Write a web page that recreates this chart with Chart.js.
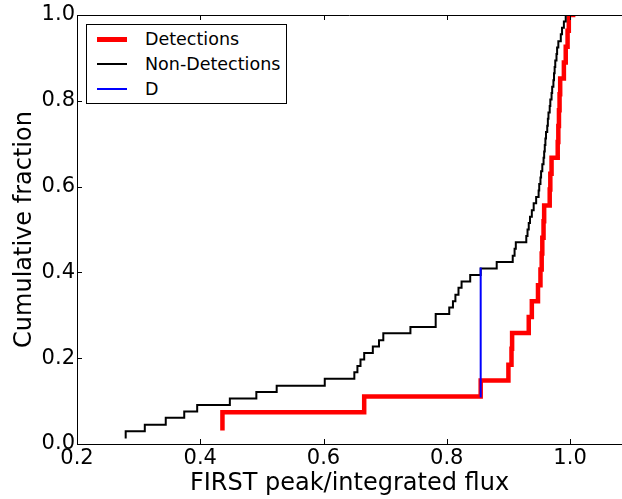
<!DOCTYPE html>
<html>
<head>
<meta charset="utf-8">
<script src="https://cdn.jsdelivr.net/npm/chart.js@4"></script>
<style>
  html, body { margin: 0; padding: 0; background: #fff; }
  #wrap { position: relative; width: 622px; height: 499px; }
  #legend { position: absolute; left: 86px; top: 24px; width: 201px; height: 80px; box-sizing: border-box;
            border: 1px solid #000; background: #fff; font-family: "DejaVu Sans"; font-size: 17.5px; color: #000; }
  .row { position: absolute; left: 0; width: 100%; height: 24px; }
  .swatch { position: absolute; left: 10px; width: 30px; }
  .label { position: absolute; left: 58px; top: 0; line-height: 24px; white-space: nowrap; }
</style>
</head>
<body>
<div id="wrap">
  <canvas id="chart" width="622" height="499"></canvas>
  <div id="legend">
    <div class="row" style="top:2px"><span class="swatch" style="top:10px;height:4.5px;background:#ff0000"></span><span class="label">Detections</span></div>
    <div class="row" style="top:27px"><span class="swatch" style="top:11px;height:2px;background:#000"></span><span class="label">Non-Detections</span></div>
    <div class="row" style="top:52px"><span class="swatch" style="top:11px;height:2px;background:#0000ff"></span><span class="label">D</span></div>
  </div>
</div>
<script>
const xTicks = [0.2, 0.4, 0.6, 0.8, 1.0];
const yTicks = [0, 0.2, 0.4, 0.6, 0.8, 1.0];

// detections: cumulative steps (x of jump, level after jump)
const detX = [0.436, 0.436, 0.666, 0.855, 0.900, 0.905, 0.906, 0.933, 0.938, 0.948,
              0.952, 0.954, 0.955, 0.957, 0.958, 0.967, 0.968, 0.970, 0.980, 0.981,
              0.982, 0.983, 0.984, 0.990, 0.993, 0.996, 0.998, 1.005];
const detY = [0.037, 0.074, 0.111, 0.148, 0.185, 0.222, 0.259, 0.296, 0.333, 0.370,
              0.407, 0.444, 0.481, 0.519, 0.556, 0.593, 0.630, 0.667, 0.704, 0.741,
              0.778, 0.815, 0.852, 0.889, 0.926, 0.963, 1.000, 1.000];

// non-detections
const nonX = [0.279, 0.279, 0.310, 0.344, 0.374, 0.395, 0.448, 0.491, 0.524, 0.602,
              0.650, 0.655, 0.660, 0.666, 0.680, 0.690, 0.697, 0.741, 0.782, 0.782,
              0.804, 0.810, 0.814, 0.819, 0.824, 0.838, 0.855, 0.881, 0.907, 0.910,
              0.912, 0.929, 0.931, 0.933, 0.935, 0.938, 0.941, 0.945, 0.949, 0.950,
              0.952, 0.953, 0.955, 0.957, 0.958, 0.959, 0.960, 0.961, 0.963, 0.964,
              0.965, 0.967, 0.968, 0.970, 0.971, 0.973, 0.974, 0.975, 0.976, 0.978,
              0.979, 0.981, 0.985, 0.987, 0.990, 0.993];
const nonY = [0.015, 0.030, 0.045, 0.061, 0.076, 0.091, 0.106, 0.121, 0.136, 0.152,
              0.167, 0.182, 0.197, 0.212, 0.227, 0.242, 0.258, 0.273, 0.288, 0.303,
              0.318, 0.333, 0.348, 0.364, 0.379, 0.394, 0.409, 0.424, 0.439, 0.455,
              0.470, 0.485, 0.500, 0.515, 0.530, 0.545, 0.561, 0.576, 0.591, 0.606,
              0.621, 0.636, 0.652, 0.667, 0.682, 0.697, 0.712, 0.727, 0.742, 0.758,
              0.773, 0.788, 0.803, 0.818, 0.833, 0.848, 0.864, 0.879, 0.894, 0.909,
              0.924, 0.939, 0.955, 0.970, 0.985, 1.000];

// KS distance
const dX = [0.855, 0.855];
const dY = [0.111, 0.409];

const pts = (xs, ys) => xs.map((x, i) => ({ x: x, y: ys[i] }));

const font = (size) => ({ family: 'DejaVu Sans', size: size });

// top spine + inward ticks like matplotlib
const frame = {
  id: 'frame',
  afterDatasetsDraw(chart) {
    const { ctx, chartArea: a, scales } = chart;
    ctx.save();
    ctx.strokeStyle = '#000';
    ctx.lineWidth = 1;
    ctx.beginPath();
    ctx.moveTo(a.left, a.top + 0.5);
    ctx.lineTo(a.right, a.top + 0.5);
    xTicks.forEach(v => {
      const px = Math.round(scales.x.getPixelForValue(v)) + 0.5;
      ctx.moveTo(px, a.bottom);
      ctx.lineTo(px, a.bottom - 5);
      ctx.moveTo(px, a.top);
      ctx.lineTo(px, a.top + 5);
    });
    yTicks.forEach(v => {
      const py = Math.round(scales.y.getPixelForValue(v)) + 0.5;
      ctx.moveTo(a.left, py);
      ctx.lineTo(a.left + 5, py);
    });
    ctx.stroke();
    ctx.restore();
  }
};

new Chart(document.getElementById('chart'), {
  type: 'line',
  data: {
    datasets: [
      { label: 'Detections', data: pts(detX, detY), borderColor: '#ff0000', borderWidth: 4.5, stepped: true, order: 3, clip: 0 },
      { label: 'Non-Detections', data: pts(nonX, nonY), borderColor: '#000000', borderWidth: 2, stepped: true, order: 2, clip: 0 },
      { label: 'D', data: pts(dX, dY), borderColor: '#0000ff', borderWidth: 2, order: 1, clip: 0 }
    ]
  },
  options: {
    responsive: false,
    animation: false,
    devicePixelRatio: 1,
    layout: { padding: { top: 15, left: 0, right: 0, bottom: 0 } },
    elements: {
      point: { radius: 0 },
      line: { fill: false, tension: 0, borderCapStyle: 'square', borderJoinStyle: 'miter' }
    },
    plugins: { legend: { display: false }, tooltip: { enabled: false } },
    scales: {
      x: {
        type: 'linear', min: 0.2, max: 1.0843,
        afterBuildTicks: s => { s.ticks = xTicks.map(v => ({ value: v })); },
        afterFit: s => { s.height = 55; },
        grid: { display: false, drawTicks: false },
        border: { display: true, color: '#000', width: 1 },
        ticks: { padding: 2, color: '#000', font: font(21), maxRotation: 0, autoSkip: false,
                 callback: v => v.toFixed(1) },
        title: { display: true, text: 'FIRST peak/integrated flux', color: '#000', font: font(24),
                 padding: { top: 0, bottom: 1 } }
      },
      y: {
        type: 'linear', min: 0, max: 1,
        afterBuildTicks: s => { s.ticks = yTicks.map(v => ({ value: v })); },
        afterFit: s => { s.width = 77; },
        grid: { display: false, drawTicks: false },
        border: { display: true, color: '#000', width: 1 },
        ticks: { padding: 2, color: '#000', font: font(21), autoSkip: false,
                 callback: v => v.toFixed(1) },
        title: { display: true, text: 'Cumulative fraction', color: '#000', font: font(24),
                 padding: { top: 10, bottom: 0 } }
      }
    }
  },
  plugins: [frame]
});
</script>
</body>
</html>
